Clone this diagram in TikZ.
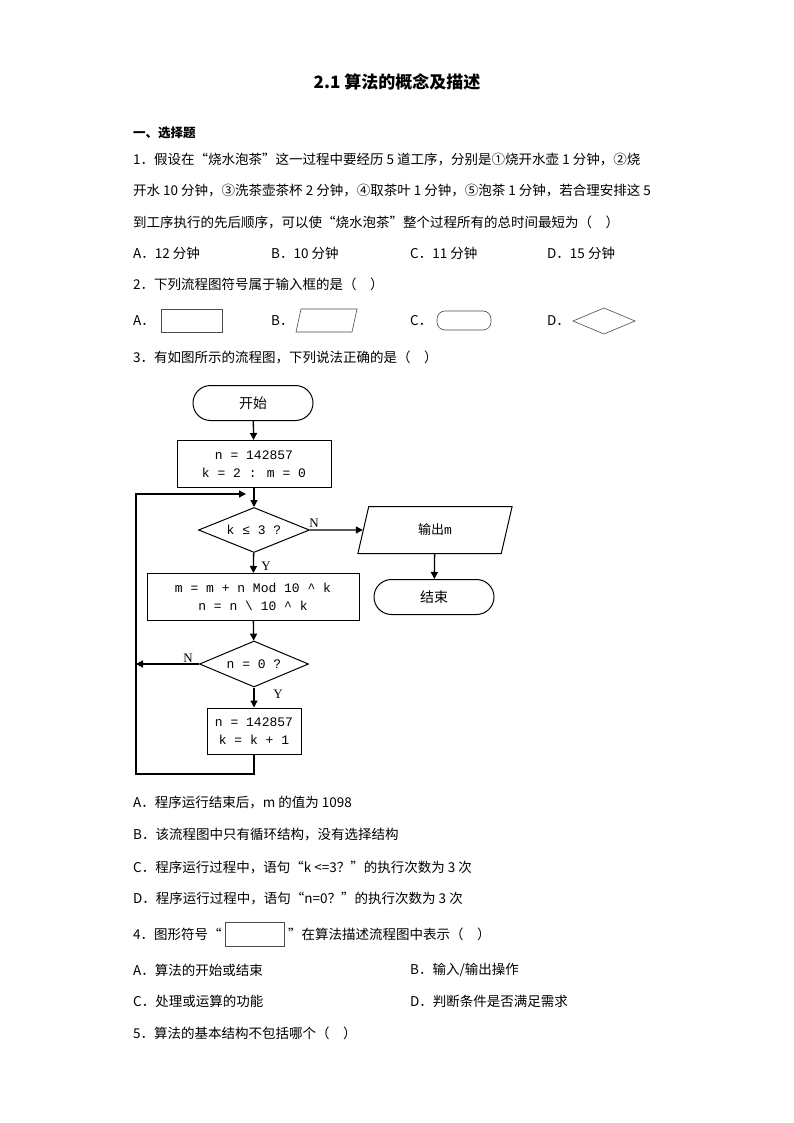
\documentclass[tikz,border=0pt]{standalone}
\usepackage{fontspec}
\setmainfont{Noto Sans CJK SC}
\newfontfamily\lmono{Liberation Mono}
\newfontfamily\lserif{Liberation Serif}
\usetikzlibrary{shapes.geometric,shapes.misc,arrows.meta}
\begin{document}
\begin{tikzpicture}[x=1pt,y=-1pt,
  txt/.style={anchor=west,inner sep=0pt,font=\fontsize{13.5}{14}\selectfont},
  fc/.style={draw,line width=1pt,align=center,font=\lmono\fontsize{13}{18}\selectfont,inner sep=0pt},
  term/.style={fc,rounded rectangle},
  arr/.style={line width=1.3pt,-{Triangle[length=7pt,width=7pt]}},
  lbl/.style={inner sep=0pt,font=\lserif\fontsize{13}{14}\selectfont},
  shp/.style={draw=black!70,line width=0.6pt}]
\useasboundingbox (0,0) rectangle (794,1123);
\fill[white] (0,0) rectangle (794,1123);
\node[inner sep=0pt,font=\bfseries\fontsize{17}{18}\selectfont] (title) at (397,82) {2.1 算法的概念及描述};
\node[txt,font=\bfseries\fontsize{12.5}{14}\selectfont] (sec) at (133,133) {一、选择题};
\node[txt] (q1a) at (133,160) {1．假设在“烧水泡茶”这一过程中要经历 5 道工序，分别是①烧开水壶 1 分钟，②烧};
\node[txt] (q1b) at (133,191) {开水 10 分钟，③洗茶壶茶杯 2 分钟，④取茶叶 1 分钟，⑤泡茶 1 分钟，若合理安排这 5};
\node[txt] (q1c) at (133,222) {到工序执行的先后顺序，可以使“烧水泡茶”整个过程所有的总时间最短为（\quad）};
\node[txt] (o1a) at (133,253) {A．12 分钟};
\node[txt] (o1b) at (271,253) {B．10 分钟};
\node[txt] (o1c) at (410,253) {C．11 分钟};
\node[txt] (o1d) at (547,253) {D．15 分钟};
\node[txt] (q2) at (133,284) {2．下列流程图符号属于输入框的是（\quad）};
\node[txt] (o2a) at (133,321) {A．};
\draw[shp] (161,309) rectangle (222,332);
\node[txt] (o2b) at (271,321) {B．};
\draw[shp] (301,309) -- (357,309) -- (352,332) -- (296,332) -- cycle;
\node[txt] (o2c) at (410,321) {C．};
\draw[shp,rounded corners=8pt] (437,311) rectangle (491,330);
\node[txt] (o2d) at (547,321) {D．};
\draw[shp] (573,321) -- (604,308) -- (635,321) -- (604,334) -- cycle;
\node[txt] (q3) at (133,357) {3．有如图所示的流程图，下列说法正确的是（\quad）};
% flowchart
\node[term,minimum width=120pt,minimum height=35pt,font=\fontsize{14}{14}\selectfont] (start) at (253,403) {开始};
\node[fc,minimum width=154pt,minimum height=47pt] (b1) at (254,464) {n = 142857\\k = 2 : m = 0};
\node[fc,diamond,aspect=2.45,minimum width=111pt,minimum height=45pt] (d1) at (254,530) {k ≤ 3 ?};
\node[fc,trapezium,trapezium left angle=77,trapezium right angle=103,minimum width=125pt,minimum height=47pt,font=\fontsize{13}{14}\selectfont] (out) at (435,530) {输出{\lmono m}};
\node[term,minimum width=120pt,minimum height=35pt,font=\fontsize{14}{14}\selectfont] (end) at (434,597) {结束};
\node[fc,minimum width=212pt,minimum height=47pt] (b2) at (253,597) {m = m + n Mod 10 \^{} k\\n = n \textbackslash{} 10 \^{} k};
\node[fc,diamond,aspect=2.4,minimum width=109pt,minimum height=46pt] (d2) at (254,664) {n = 0 ?};
\node[fc,minimum width=94pt,minimum height=46pt] (b3) at (254,731) {n = 142857\\k = k + 1};
\coordinate (lt) at (136,494);
\coordinate (lm) at (136,664);
\coordinate (lb) at (136,774);
\coordinate (bb) at (254,774);
\coordinate (la) at (246,494);
\draw[arr] (start) -- (b1);
\draw[arr] (b1) -- (d1);
\draw[arr] (d1) -- (out);
\draw[arr] (out) -- (end);
\draw[arr] (d1) -- (b2);
\draw[arr] (b2) -- (d2);
\draw[arr] (d2) -- (b3);
\draw[arr] (d2.west) -- (lm);
\draw[arr] (b3.south) -- (bb) -- (lb) -- (lt) -- (la);
\node[lbl] (nl1) at (314,523) {N};
\node[lbl] (yl1) at (266,566) {Y};
\node[lbl] (nl2) at (188,658) {N};
\node[lbl] (yl2) at (278,694) {Y};
% answers
\node[txt] (a3a) at (133,803) {A．程序运行结束后，m 的值为 1098};
\node[txt] (a3b) at (133,835) {B．该流程图中只有循环结构，没有选择结构};
\node[txt] (a3c) at (133,867) {C．程序运行过程中，语句“k <=3？”的执行次数为 3 次};
\node[txt] (a3d) at (133,898) {D．程序运行过程中，语句“n=0？”的执行次数为 3 次};
\node[txt] (q4a) at (133,934) {4．图形符号“};
\draw[shp] (225,922) rectangle (284,946);
\node[txt] (q4b) at (288,934) {”在算法描述流程图中表示（\quad）};
\node[txt] (o4a) at (133,970) {A．算法的开始或结束};
\node[txt] (o4b) at (410,970) {B．输入/输出操作};
\node[txt] (o4c) at (133,1001) {C．处理或运算的功能};
\node[txt] (o4d) at (410,1001) {D．判断条件是否满足需求};
\node[txt] (q5) at (133,1033) {5．算法的基本结构不包括哪个（\quad）};
\end{tikzpicture}
\end{document}
